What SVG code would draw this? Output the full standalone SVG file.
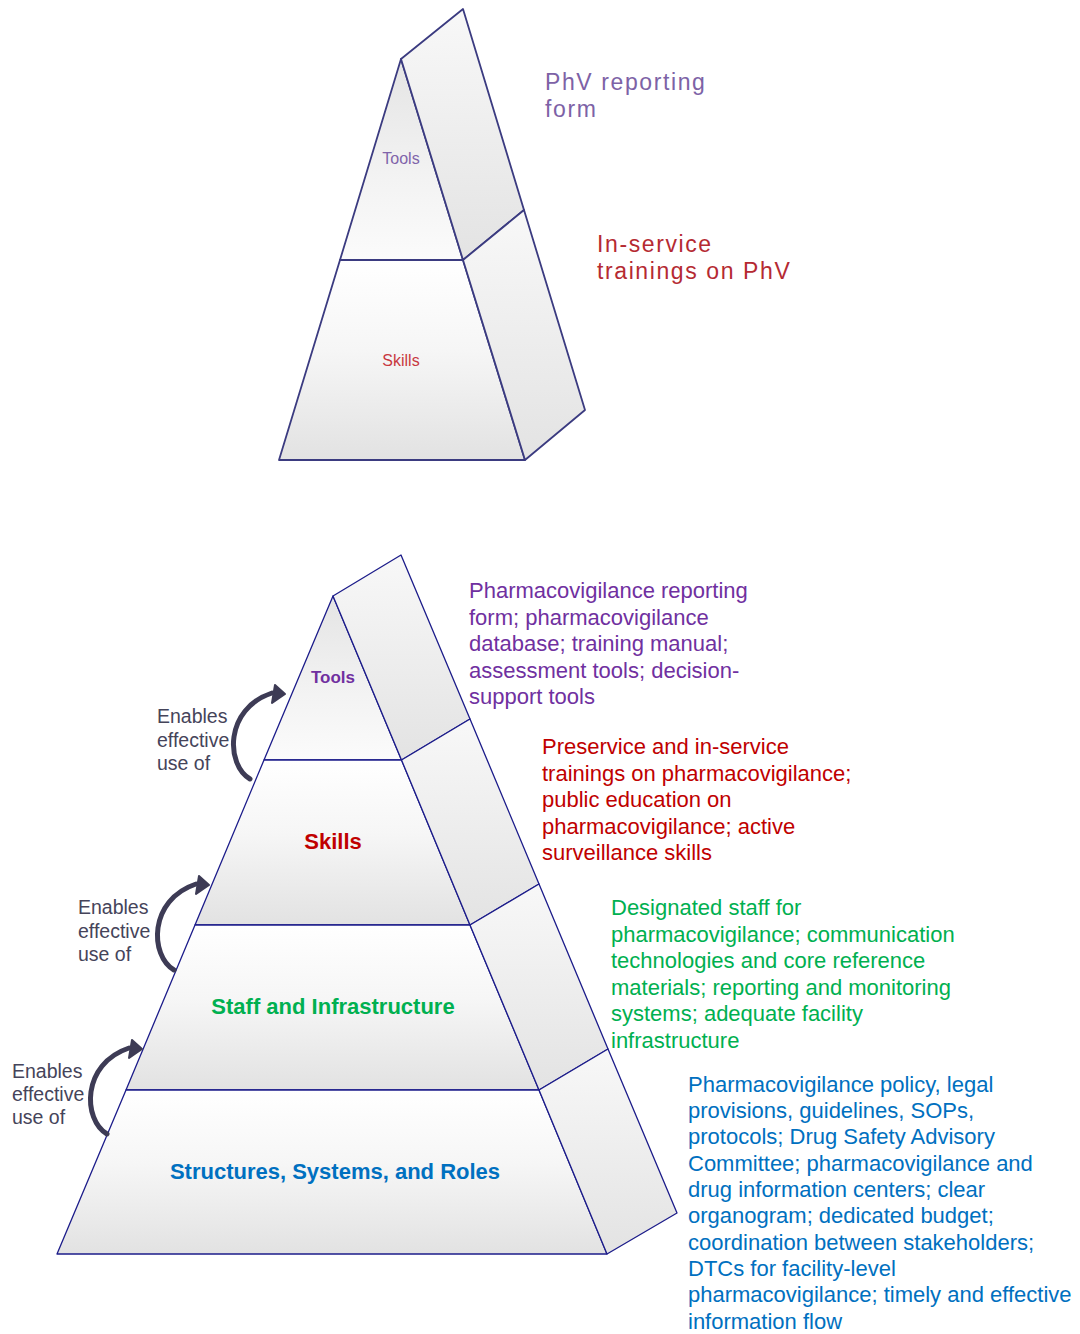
<svg xmlns="http://www.w3.org/2000/svg" xmlns:xlink="http://www.w3.org/1999/xlink" width="1080" height="1334" viewBox="0 0 1080 1334">
  <defs>
    <linearGradient id="gFront" x1="0" y1="0" x2="0" y2="1">
      <stop offset="0" stop-color="#ffffff"/>
      <stop offset="0.45" stop-color="#f6f6f6"/>
      <stop offset="1" stop-color="#e2e2e2"/>
    </linearGradient>
    <linearGradient id="gApex" x1="0" y1="0" x2="0" y2="1">
      <stop offset="0" stop-color="#e4e4e4"/>
      <stop offset="0.6" stop-color="#f3f3f3"/>
      <stop offset="1" stop-color="#fbfbfb"/>
    </linearGradient>
    <linearGradient id="gSide" x1="0" y1="0" x2="0" y2="1">
      <stop offset="0" stop-color="#f8f8f8"/>
      <stop offset="1" stop-color="#e3e3e3"/>
    </linearGradient>
    <path id="curve" d="M0,0 C-24,-14 -26,-70 22,-86" fill="none" stroke="#3d3b55" stroke-width="5" stroke-linecap="round"/>
    <polygon id="head" points="25,-94 35,-85 22,-76" fill="#3d3b55" stroke="#3d3b55" stroke-width="2" stroke-linejoin="round"/>
    <g id="bendArrow">
      <use xlink:href="#curve"/>
      <use xlink:href="#head"/>
    </g>
  </defs>
  <style>
    .face { stroke: #1c1c8a; stroke-width: 1.3; stroke-linejoin: round; }
    .oface { stroke: #3b3b80; stroke-width: 1.8; stroke-linejoin: round; }
    .txt { font-family: "Liberation Sans", Arial, sans-serif; font-size: 22px; }
    .lbl { font-family: "Liberation Sans", Arial, sans-serif; font-weight: bold; text-anchor: middle; }
    .en { font-family: "Liberation Sans", Arial, sans-serif; font-size: 19.5px; fill: #45445a; }
    .old { font-family: "Liberation Sans", Arial, sans-serif; font-size: 23px; letter-spacing: 1.6px; }
    .purple { fill: #7030a0; }
    .red { fill: #c00000; }
    .green { fill: #00b050; }
    .blue { fill: #0070c0; }
  </style>
  <rect width="1080" height="1334" fill="#ffffff"/>

  <!-- Top (older) pyramid -->
  <g id="old-pyramid">
    <g id="old-tools">
      <polygon class="oface" points="401,59 463,260 340,260" fill="url(#gApex)"/>
      <polygon class="oface" points="401,59 463,9 524,210 463,260" fill="url(#gSide)"/>
      <text class="lbl" x="401" y="164" font-size="16" font-weight="normal" fill="#8064aa" style="font-weight:normal">Tools</text>
    </g>
    <g id="old-skills">
      <polygon class="oface" points="340,260 463,260 525,460 279,460" fill="url(#gFront)"/>
      <polygon class="oface" points="463,260 524,210 585,410 525,460" fill="url(#gSide)"/>
      <text class="lbl" x="401" y="366" font-size="16" fill="#c8383f" style="font-weight:normal">Skills</text>
    </g>
    <g id="old-tools-note">
      <text class="old" x="545" y="90" fill="#7d62a6">PhV reporting</text>
      <text class="old" x="545" y="117" fill="#7d62a6">form</text>
    </g>
    <g id="old-skills-note">
      <text class="old" x="597" y="252" fill="#b52a32">In-service</text>
      <text class="old" x="597" y="279" fill="#b52a32">trainings on PhV</text>
    </g>
  </g>

  <!-- Bottom pyramid -->
  <g id="tools">
    <polygon class="face" points="333,596 401.5,760 264,760" fill="url(#gApex)"/>
    <polygon class="face" points="333,596 401,555 470,719 401.5,760" fill="url(#gSide)"/>
    <text class="lbl purple" x="333" y="683" font-size="17">Tools</text>
  </g>
  <g id="skills">
    <polygon class="face" points="264,760 401.5,760 470,925 195,925" fill="url(#gFront)"/>
    <polygon class="face" points="401.5,760 470,719 539,884 470,925" fill="url(#gSide)"/>
    <text class="lbl red" x="333" y="849" font-size="22">Skills</text>
  </g>
  <g id="staff">
    <polygon class="face" points="195,925 470,925 539,1090 126,1090" fill="url(#gFront)"/>
    <polygon class="face" points="470,925 539,884 608,1049 539,1090" fill="url(#gSide)"/>
    <text class="lbl green" x="333" y="1014" font-size="22">Staff and Infrastructure</text>
  </g>
  <g id="structures">
    <polygon class="face" points="126,1090 539,1090 607,1254 57,1254" fill="url(#gFront)"/>
    <polygon class="face" points="539,1090 608,1049 677,1213 607,1254" fill="url(#gSide)"/>
    <text class="lbl blue" x="335" y="1179" font-size="22">Structures, Systems, and Roles</text>
  </g>

  <g id="tools-note" class="txt purple">
    <text x="469" y="598">Pharmacovigilance reporting</text>
    <text x="469" y="624.5">form; pharmacovigilance</text>
    <text x="469" y="651">database; training manual;</text>
    <text x="469" y="677.5">assessment tools; decision-</text>
    <text x="469" y="704">support tools</text>
  </g>
  <g id="skills-note" class="txt red">
    <text x="542" y="754">Preservice and in-service</text>
    <text x="542" y="780.5">trainings on pharmacovigilance;</text>
    <text x="542" y="807">public education on</text>
    <text x="542" y="833.5">pharmacovigilance; active</text>
    <text x="542" y="860">surveillance skills</text>
  </g>
  <g id="staff-note" class="txt green">
    <text x="611" y="915">Designated staff for</text>
    <text x="611" y="941.5">pharmacovigilance; communication</text>
    <text x="611" y="968">technologies and core reference</text>
    <text x="611" y="994.5">materials; reporting and monitoring</text>
    <text x="611" y="1021">systems; adequate facility</text>
    <text x="611" y="1047.5">infrastructure</text>
  </g>
  <g id="structures-note" class="txt blue">
    <text x="688" y="1091.5">Pharmacovigilance policy, legal</text>
    <text x="688" y="1118">provisions, guidelines, SOPs,</text>
    <text x="688" y="1144">protocols; Drug Safety Advisory</text>
    <text x="688" y="1170.5">Committee; pharmacovigilance and</text>
    <text x="688" y="1197">drug information centers; clear</text>
    <text x="688" y="1223">organogram; dedicated budget;</text>
    <text x="688" y="1249.5">coordination between stakeholders;</text>
    <text x="688" y="1276">DTCs for facility-level</text>
    <text x="688" y="1302">pharmacovigilance; timely and effective</text>
    <text x="688" y="1328.5">information flow</text>
  </g>

  <g id="enables-1" class="en">
    <text x="157" y="723">Enables</text>
    <text x="157" y="747">effective</text>
    <text x="157" y="770">use of</text>
  </g>
  <g id="enables-2" class="en">
    <text x="78" y="914">Enables</text>
    <text x="78" y="938">effective</text>
    <text x="78" y="961">use of</text>
  </g>
  <g id="enables-3" class="en">
    <text x="12" y="1078">Enables</text>
    <text x="12" y="1101">effective</text>
    <text x="12" y="1124">use of</text>
  </g>

  <g id="connectors">
    <use xlink:href="#bendArrow" transform="translate(250,779)"/>
    <use xlink:href="#bendArrow" transform="translate(174,970)"/>
    <use xlink:href="#bendArrow" transform="translate(107,1134)"/>
  </g>
</svg>
